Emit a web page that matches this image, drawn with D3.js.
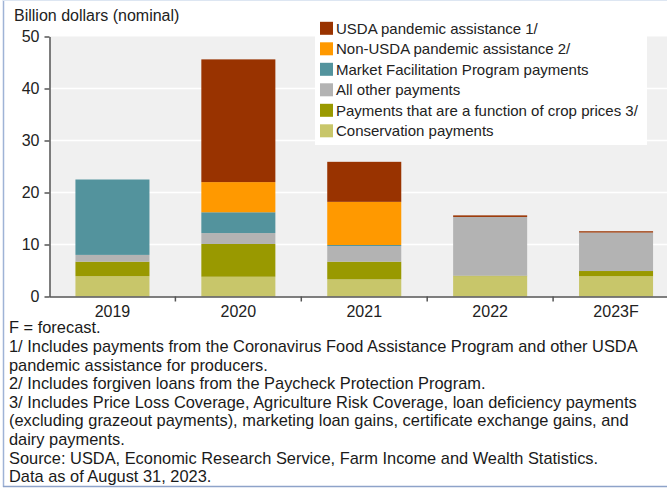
<!DOCTYPE html>
<html>
<head>
<meta charset="utf-8">
<script src="https://cdn.jsdelivr.net/npm/d3@7"></script>
<style>
  html, body { margin: 0; padding: 0; background: #fff; }
  svg { display: block; font-family: "Liberation Sans", Arial, sans-serif; }
</style>
</head>
<body>
<svg id="chart" width="667" height="489"></svg>
<script>
// Government payments to farms, billion dollars (nominal)
const years = ["2019", "2020", "2021", "2022", "2023F"];
const conservation = [3.9, 3.8, 3.3, 3.9, 3.9];
const cropPrice    = [2.8, 6.3, 3.4, 0.1, 1.0];
const allOther     = [1.3, 2.1, 3.0, 11.3, 7.4];
const mfp          = [14.5, 4.0, 0.2, 0.0, 0.0];
const nonUsda      = [0.0, 5.8, 8.3, 0.0, 0.0];
const usda         = [0.0, 23.6, 7.7, 0.3, 0.25];
const yTicks = [0, 10, 20, 30, 40, 50];

const seriesNames = [
  "Conservation payments",
  "Payments that are a function of crop prices 3/",
  "All other payments",
  "Market Facilitation Program payments",
  "Non-USDA pandemic assistance 2/",
  "USDA pandemic assistance 1/"
];
const seriesValues = [conservation, cropPrice, allOther, mfp, nonUsda, usda];
const seriesColors = ["#c8c66a", "#999900", "#b3b3b3", "#53939d", "#ff9900", "#993300"];

const footnotes = [
  "F = forecast.",
  "1/ Includes payments from the Coronavirus Food Assistance Program and other USDA",
  "pandemic assistance for producers.",
  "2/ Includes forgiven loans from the Paycheck Protection Program.",
  "3/ Includes Price Loss Coverage, Agriculture Risk Coverage, loan deficiency payments",
  "(excluding grazeout payments), marketing loan gains, certificate exchange gains, and",
  "dairy payments.",
  "Source: USDA, Economic Research Service, Farm Income and Wealth Statistics.",
  "Data as of August 31, 2023."
];

const svg = d3.select("#chart");
const W = 667, H = 489;
const plot = { left: 49.5, top: 36.5, bottom: 296.5, right: 667 };

// rows for stacking
const rows = years.map((y, i) => {
  const r = { year: y };
  seriesNames.forEach((n, k) => r[n] = seriesValues[k][i]);
  return r;
});
const stacked = d3.stack().keys(seriesNames)(rows);

const x = d3.scaleBand().domain(years).range([plot.left, 679]).paddingInner(0.412).paddingOuter(0.206);
const y = d3.scaleLinear().domain([0, 50]).range([plot.bottom, plot.top]);
const color = d3.scaleOrdinal().domain(seriesNames).range(seriesColors);

// frame
svg.append("line").attr("x1", 3.5).attr("x2", 3.5).attr("y1", 0).attr("y2", 487)
  .attr("stroke", "#9fb3d6").attr("stroke-width", 1.5);
svg.append("line").attr("x1", 3).attr("x2", W).attr("y1", 486.5).attr("y2", 486.5)
  .attr("stroke", "#8ea3c9").attr("stroke-width", 1.5);
svg.append("line").attr("x1", 3).attr("x2", W).attr("y1", 0.5).attr("y2", 0.5)
  .attr("stroke", "#dde6f2").attr("stroke-width", 1);

// plot background
svg.append("rect").attr("x", plot.left).attr("y", plot.top)
  .attr("width", plot.right - plot.left).attr("height", plot.bottom - plot.top)
  .attr("fill", "#f0f0f0");

// gridlines
svg.append("g").selectAll("line").data(yTicks.filter(t => t > 0 && t < 50)).join("line")
  .attr("x1", plot.left).attr("x2", plot.right)
  .attr("y1", d => y(d)).attr("y2", d => y(d))
  .attr("stroke", "#ffffff").attr("stroke-width", 1.5);

// legend box
const lg = svg.append("g");
lg.append("rect").attr("x", 315).attr("y", 14).attr("width", 332).attr("height", 131).attr("fill", "#ffffff");
const legendOrder = seriesNames.slice().reverse();
legendOrder.forEach((n, i) => {
  const cy = 28.3 + i * 20.5;
  lg.append("rect").attr("x", 320).attr("y", cy - 6.5).attr("width", 13).attr("height", 13).attr("fill", color(n));
  lg.append("text").attr("x", 336).attr("y", cy).attr("dy", "0.36em")
    .attr("font-size", 15).attr("fill", "#222").text(n);
});

// bars
svg.append("g").selectAll("g").data(stacked).join("g")
  .attr("fill", d => color(d.key))
  .selectAll("rect").data(d => d).join("rect")
  .attr("x", d => x(d.data.year))
  .attr("width", x.bandwidth())
  .attr("y", d => y(d[1]))
  .attr("height", d => Math.max(0, y(d[0]) - y(d[1])));

// y axis
const yAxis = d3.axisLeft(y).tickValues(yTicks).tickSize(5).tickPadding(5).tickSizeOuter(0);
const gy = svg.append("g").attr("transform", `translate(${plot.left},0)`).call(yAxis);
gy.select(".domain").attr("stroke", "#555").attr("stroke-width", 1.5);
gy.selectAll(".tick line").attr("stroke", "#555").attr("stroke-width", 1.5);
gy.selectAll(".tick text").attr("font-size", 16).attr("fill", "#222")
  .attr("font-family", "Liberation Sans, Arial, sans-serif");

// x axis: baseline with ticks between categories
svg.append("line").attr("x1", plot.left).attr("x2", plot.right)
  .attr("y1", plot.bottom + 0.5).attr("y2", plot.bottom + 0.5)
  .attr("stroke", "#555").attr("stroke-width", 1.5);
const step = x.step();
svg.append("g").selectAll("line").data(years.slice(1)).join("line")
  .attr("x1", d => x(d) - x.paddingInner() * step / 2).attr("x2", d => x(d) - x.paddingInner() * step / 2)
  .attr("y1", plot.bottom).attr("y2", plot.bottom + 5)
  .attr("stroke", "#555").attr("stroke-width", 1.5);
svg.append("g").selectAll("text").data(years).join("text")
  .attr("x", d => x(d) + x.bandwidth() / 2).attr("y", 311).attr("dy", "0.36em")
  .attr("text-anchor", "middle").attr("font-size", 16).attr("fill", "#222").text(d => d);

// y title
svg.append("text").attr("x", 14).attr("y", 15).attr("dy", "0.36em")
  .attr("font-size", 16).attr("fill", "#222").text("Billion dollars (nominal)");

// footnotes: sized so the longest line spans the note area
const notes = svg.append("g").selectAll("text").data(footnotes).join("text")
  .attr("x", 9).attr("y", (d, i) => 327.5 + i * 18.6).attr("dy", "0.36em")
  .attr("font-size", 16).attr("fill", "#1a1a1a")
  .text(d => d);
let maxW = 0;
notes.each(function () { maxW = Math.max(maxW, this.getComputedTextLength()); });
notes.attr("font-size", 16 * 629 / maxW);
</script>
</body>
</html>
